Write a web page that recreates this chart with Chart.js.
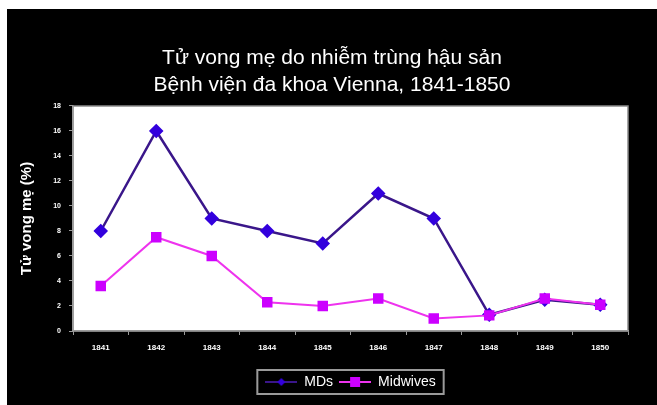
<!DOCTYPE html>
<html>
<head>
<meta charset="utf-8">
<script src="https://cdn.jsdelivr.net/npm/chart.js@4/dist/chart.umd.min.js"></script>
<style>
html,body{margin:0;padding:0;background:#fff;width:657px;height:405px;overflow:hidden;}
#wrap{position:absolute;left:7px;top:9px;width:650px;height:396px;background:#000;}
canvas{display:block;}
</style>
</head>
<body>
<div id="wrap"><canvas id="c" width="650" height="396"></canvas></div>
<script>
const titleLines = ['Tử vong mẹ do nhiễm trùng hậu sản', 'Bệnh viện đa khoa Vienna, 1841-1850'];
const yAxisTitle = 'Tử vong mẹ (%)';
const years = ['1841','1842','1843','1844','1845','1846','1847','1848','1849','1850'];
const seriesNames = ['MDs', 'Midwives'];
const mdsValues = [8, 16, 9, 8, 7, 11, 9, 1.3, 2.5, 2.1];
const midwivesValues = [3.6, 7.5, 6, 2.3, 2, 2.6, 1, 1.25, 2.6, 2.1];
const yTicks = [0, 2, 4, 6, 8, 10, 12, 14, 16, 18];

const mdsLine = '#3a168a', mdsMarker = '#3300dd';
const midLine = '#ee33ee', midMarker = '#cc00ff';

function legendIcon(lineColor, markerColor, kind) {
  const c = document.createElement('canvas');
  c.width = 32; c.height = 12;
  const x = c.getContext('2d');
  x.strokeStyle = lineColor; x.lineWidth = 2;
  x.beginPath(); x.moveTo(0, 6); x.lineTo(32, 6); x.stroke();
  x.fillStyle = markerColor;
  if (kind === 'diamond') {
    x.beginPath(); x.moveTo(16, 2); x.lineTo(20, 6); x.lineTo(16, 10); x.lineTo(12, 6); x.closePath(); x.fill();
  } else {
    x.fillRect(11, 1, 10, 10);
  }
  return c;
}
const icons = [legendIcon(mdsLine, mdsMarker, 'diamond'), legendIcon(midLine, midMarker, 'square')];

const bgPlugin = {
  id: 'bg',
  beforeDraw(chart) {
    const a = chart.chartArea, ctx = chart.ctx;
    ctx.save();
    ctx.fillStyle = '#ffffff';
    ctx.fillRect(a.left, a.top, a.right - a.left, a.bottom - a.top);
    ctx.strokeStyle = '#8a8a8a'; ctx.lineWidth = 1.5;
    ctx.strokeRect(a.left, a.top, a.right - a.left, a.bottom - a.top);
    ctx.restore();
  },
  afterDraw(chart) {
    const lg = chart.legend;
    if (!lg || !lg.legendHitBoxes || !lg.legendHitBoxes.length) return;
    const hb = lg.legendHitBoxes;
    const l = hb[0].left - 8, r = hb[hb.length-1].left + hb[hb.length-1].width + 8;
    const cy = hb[0].top + hb[0].height / 2;
    const ctx = chart.ctx;
    ctx.save();
    ctx.strokeStyle = '#9a9a9a'; ctx.lineWidth = 2;
    ctx.strokeRect(l, cy - 12, r - l, 24);
    ctx.restore();
  }
};

new Chart(document.getElementById('c'), {
  type: 'line',
  data: {
    labels: years,
    datasets: [
      { label: seriesNames[0], data: mdsValues, borderColor: mdsLine, borderWidth: 2.5,
        pointStyle: 'rectRot', pointRadius: 5.5, pointBackgroundColor: mdsMarker, pointBorderColor: mdsMarker,
        tension: 0, order: 1 },
      { label: seriesNames[1], data: midwivesValues, borderColor: midLine, borderWidth: 2,
        pointStyle: 'rect', pointRadius: 6, pointBackgroundColor: midMarker, pointBorderColor: midMarker,
        tension: 0, order: 0 }
    ]
  },
  options: {
    responsive: false,
    animation: false,
    layout: { padding: { left: 0, right: 0, top: 0, bottom: 6 } },
    plugins: {
      tooltip: { enabled: false },
      title: {
        display: true, text: titleLines, color: '#ffffff',
        font: { family: 'Liberation Sans, Arial, sans-serif', size: 21, weight: 'normal', lineHeight: 1.2857 },
        padding: { top: 36, bottom: 7 }
      },
      legend: {
        position: 'bottom',
        fullSize: false,
        labels: {
          color: '#ffffff',
          font: { family: 'Liberation Sans, Arial, sans-serif', size: 14 },
          usePointStyle: true, pointStyleWidth: 32, boxHeight: 12, padding: 6,
          sort: (a, b) => a.datasetIndex - b.datasetIndex,
          generateLabels: (chart) => chart.data.datasets.map((d, i) => ({
            text: d.label, pointStyle: icons[i], fillStyle: 'transparent', strokeStyle: 'transparent',
            lineWidth: 0, fontColor: '#ffffff', datasetIndex: i, hidden: false
          }))
        }
      }
    },
    scales: {
      x: {
        offset: true,
        grid: { display: true, drawOnChartArea: false, offset: true, color: '#9a9a9a', tickLength: 4 },
        border: { display: true, color: '#9a9a9a', width: 1.5 },
        ticks: { color: '#ffffff', font: { family: 'Liberation Sans, Arial, sans-serif', size: 8, weight: 'bold' }, padding: 8, maxRotation: 0 },
        afterFit(s) { s.height = 38; }
      },
      y: {
        min: 0, max: 18,
        afterBuildTicks(s) { s.ticks = yTicks.map(v => ({ value: v })); },
        grid: { display: true, drawOnChartArea: false, color: '#9a9a9a', tickLength: 4 },
        border: { display: true, color: '#9a9a9a', width: 1.5 },
        ticks: { color: '#ffffff', font: { family: 'Liberation Sans, Arial, sans-serif', size: 7, weight: 'bold' }, padding: 8 },
        title: { display: true, text: yAxisTitle, color: '#ffffff',
          font: { family: 'Liberation Sans, Arial, sans-serif', size: 15, weight: 'bold' }, padding: { top: 11, bottom: 0 } },
        afterFit(s) { s.width = 66; }
      },
      yRight: {
        type: 'linear', position: 'right', axis: 'y', min: 0, max: 18,
        grid: { display: false, drawOnChartArea: false },
        border: { display: false },
        ticks: { display: false },
        afterFit(s) { s.width = 29; }
      }
    }
  },
  plugins: [bgPlugin]
});
</script>
</body>
</html>
